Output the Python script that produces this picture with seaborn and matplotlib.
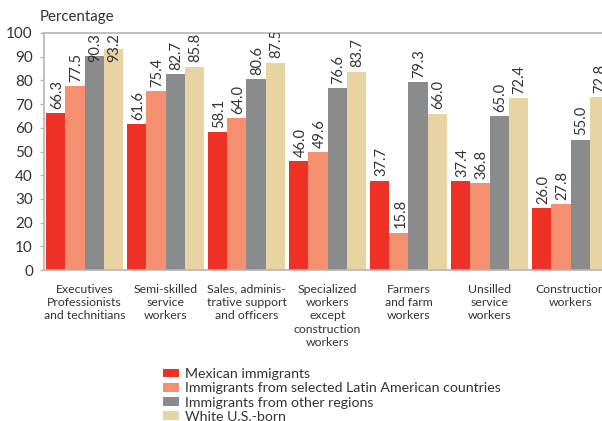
import numpy as np
import pandas as pd
import matplotlib
matplotlib.use("Agg")
import matplotlib.pyplot as plt
from matplotlib.patches import Patch
from matplotlib.transforms import offset_copy
import seaborn as sns

categories = [
    "Executives\nProfessionists\nand technitians",
    "Semi-skilled\nservice\nworkers",
    "Sales, adminis-\ntrative support\nand officers",
    "Specialized\nworkers\nexcept\nconstruction\nworkers",
    "Farmers\nand farm\nworkers",
    "Unsilled\nservice\nworkers",
    "Construction\nworkers",
]
series_names = [
    "Mexican immigrants",
    "Immigrants from selected Latin American countries",
    "Immigrants from other regions",
    "White U.S.-born",
]
mexican = [66.3, 61.6, 58.1, 46.0, 37.7, 37.4, 26.0]
latin = [77.5, 75.4, 64.0, 49.6, 15.8, 36.8, 27.8]
other = [90.3, 82.7, 80.6, 76.6, 79.3, 65.0, 55.0]
white = [93.2, 85.8, 87.5, 83.7, 66.0, 72.4, 72.8]
yticks = [0, 10, 20, 30, 40, 50, 60, 70, 80, 90, 100]
colors = ["#EE3124", "#F4906F", "#8A8B8D", "#E8D3A2"]

rows = []
for name, vals in zip(series_names, [mexican, latin, other, white]):
    for c, v in zip(categories, vals):
        rows.append({"category": c, "group": name, "value": v})
df = pd.DataFrame(rows)

sns.set_theme(style="white")
plt.rcParams["font.family"] = ["Lato", "DejaVu Sans"]
text_color = "#333333"

fig = plt.figure(figsize=(6.02, 4.21), dpi=100)
W, H = 602, 421
ax = fig.add_axes([44 / W, 1 - 270 / H, 567 / W, (270 - 33) / H])

sns.barplot(data=df, x="category", y="value", hue="group", palette=colors,
            order=categories, hue_order=series_names, width=0.94, gap=0,
            saturation=1, linewidth=0, ax=ax, legend=False)

ax.set_ylim(0, 100)
ax.set_xlim(-0.5, len(categories) - 0.5)

# value labels, rotated, above each bar
labels = []
for cont in ax.containers:
    for p in cont:
        v = p.get_height()
        x = p.get_x() + p.get_width() / 2
        t = ax.text(x, v, f"{v:.1f}", rotation=90, ha="center", va="bottom",
                    fontsize=10.5, color=text_color, clip_on=True,
                    transform=offset_copy(ax.transData, fig=fig, x=1, y=3, units="points"))
        labels.append((t, x, v))

fig.canvas.draw()
renderer = fig.canvas.get_renderer()
ax_top = ax.get_window_extent(renderer).y1
for t, x, v in labels:
    bb = t.get_window_extent(renderer)
    over = bb.y1 - ax_top
    if over > 8:  # label would not fit: push it down inside the plot
        t.set_transform(offset_copy(ax.transData, fig=fig, x=1, y=3 - over * 72 / fig.dpi,
                                    units="points"))

ax.set_yticks(yticks)
ax.set_yticklabels([str(t) for t in yticks], fontsize=11, color=text_color)
ax.set_xticks(range(len(categories)))
ax.set_xticklabels(categories, fontsize=8.8, color=text_color, linespacing=1.25, va="top")
ax.set_xticks(np.arange(-0.5, len(categories), 1), minor=True)
ax.tick_params(axis="x", which="major", length=0, pad=10)
ax.tick_params(axis="x", which="minor", length=4, color="#b5b5b5", width=1, direction="out")
ax.tick_params(axis="y", length=3, color="#b5b5b5", width=1, direction="out", pad=5, left=True)
ax.set_xlabel("")
ax.set_ylabel("")
for s in ["left", "bottom", "top"]:
    ax.spines[s].set_visible(True)
    ax.spines[s].set_color("#b5b5b5")
    ax.spines[s].set_linewidth(1.2)
ax.spines["right"].set_visible(False)

fig.text(40 / W, 1 - 17 / H, "Percentage", fontsize=10.8, color=text_color,
         ha="left", va="center")

handles = [Patch(facecolor=c, edgecolor="none") for c in colors]
fig.legend(handles, series_names, loc="upper left",
           bbox_to_anchor=(163 / W, 1 - 368 / H), frameon=False,
           fontsize=10.2, handlelength=1.13, handleheight=0.56,
           handletextpad=0.42, labelspacing=0.16, borderpad=0,
           borderaxespad=0, labelcolor=text_color)

fig.savefig("out.png", dpi=100)
